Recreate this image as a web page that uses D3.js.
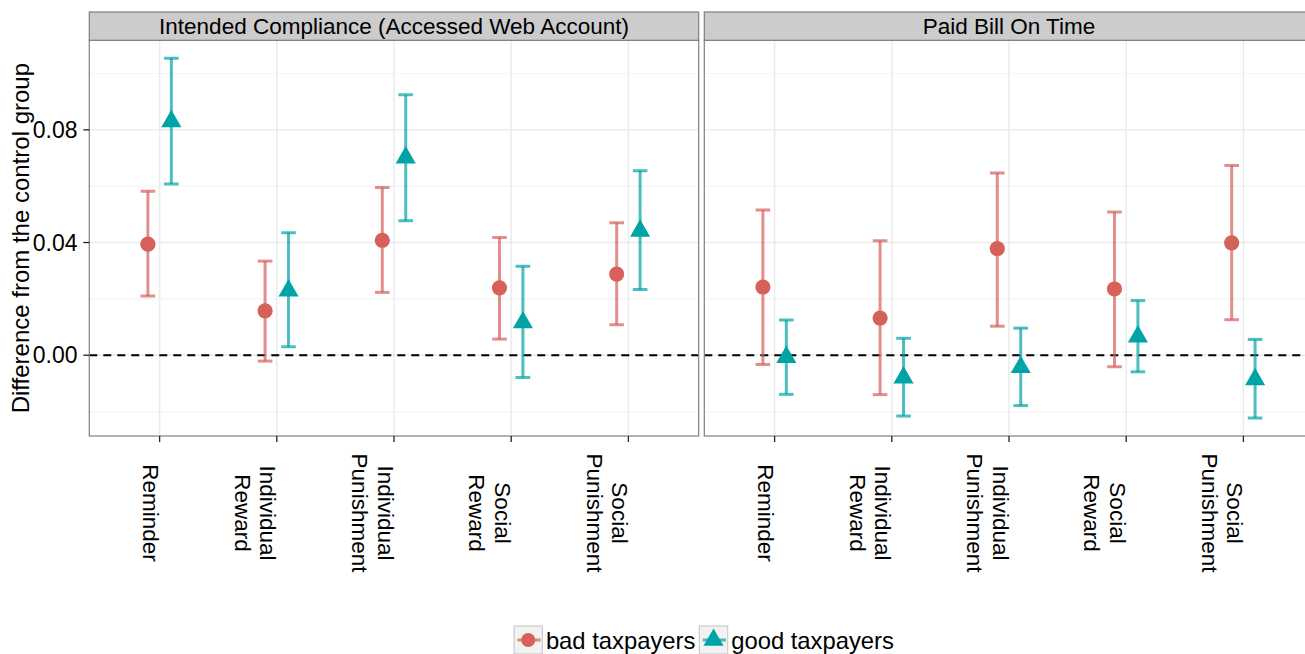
<!DOCTYPE html>
<html>
<head>
<meta charset="utf-8">
<script src="https://cdn.jsdelivr.net/npm/d3@7"></script>
<style>
  html, body { margin: 0; padding: 0; background: #fff; }
  svg { display: block; }
  text { font-family: "Liberation Sans", Arial, Helvetica, sans-serif; fill: #000; }
</style>
</head>
<body>
<svg id="chart" width="1305" height="654"></svg>
<script>
// ---------------- data ----------------
const categories = ["Reminder", "Individual Reward", "Individual Punishment", "Social Reward", "Social Punishment"];
const categoryLabelLines = [["Reminder"], ["Individual", "Reward"], ["Individual", "Punishment"], ["Social", "Reward"], ["Social", "Punishment"]];
const panels = ["Intended Compliance (Accessed Web Account)", "Paid Bill On Time"];
const groups = ["bad taxpayers", "good taxpayers"];
const yTickValues = [0, 0.04, 0.08];
const yTickLabels = ["0.00", "0.04", "0.08"];
const yMinorValues = [-0.02, 0.02, 0.06, 0.10];
const yTitle = "Difference from the control group";

// Intended Compliance (Accessed Web Account)
const intendedBadEst   = [0.0394, 0.0157, 0.0408, 0.0239, 0.0288];
const intendedBadLow   = [0.0210, -0.0021, 0.0223, 0.0057, 0.0108];
const intendedBadHigh  = [0.0582, 0.0334, 0.0595, 0.0418, 0.0470];
const intendedGoodEst  = [0.0830, 0.0229, 0.0701, 0.0116, 0.0441];
const intendedGoodLow  = [0.0608, 0.0030, 0.0477, -0.0079, 0.0233];
const intendedGoodHigh = [0.1054, 0.0435, 0.0925, 0.0316, 0.0655];

// Paid Bill On Time
const paidBadEst   = [0.0242, 0.0132, 0.0378, 0.0235, 0.0399];
const paidBadLow   = [-0.0033, -0.0140, 0.0103, -0.0041, 0.0126];
const paidBadHigh  = [0.0515, 0.0406, 0.0647, 0.0508, 0.0673];
const paidGoodEst  = [-0.0007, -0.0080, -0.0043, 0.0066, -0.0086];
const paidGoodLow  = [-0.0139, -0.0216, -0.0179, -0.0059, -0.0223];
const paidGoodHigh = [0.0125, 0.0060, 0.0096, 0.0194, 0.0056];

// ---------------- build rows ----------------
const seriesTable = [
  [[intendedBadEst, intendedBadLow, intendedBadHigh], [intendedGoodEst, intendedGoodLow, intendedGoodHigh]],
  [[paidBadEst, paidBadLow, paidBadHigh], [paidGoodEst, paidGoodLow, paidGoodHigh]]
];
const rows = [];
panels.forEach((p, pi) => {
  groups.forEach((g, gi) => {
    const [est, lo, hi] = seriesTable[pi][gi];
    categories.forEach((c, ci) => {
      rows.push({ panel: p, pi, group: g, gi, cat: c, est: est[ci], lo: lo[ci], hi: hi[ci] });
    });
  });
});

// ---------------- layout ----------------
const colors = { "bad taxpayers": "#D6605A", "good taxpayers": "#00A3A6" };
const FONT = 22.5;
const panelTop = 40.3, panelBottom = 436;
const stripTop = 12;
const panelW = 609.4;
const panelX = [89.3, 704.3];

const svg = d3.select("#chart");

// y scale: data range expanded by 5%
const yMin = d3.min(rows, d => d.lo), yMax = d3.max(rows, d => d.hi);
const pad = (yMax - yMin) * 0.05;
const y = d3.scaleLinear().domain([yMin - pad, yMax + pad]).range([panelBottom, panelTop]);

panels.forEach((pname, pi) => {
  const x0 = panelX[pi];
  const x = d3.scalePoint().domain(categories).range([x0, x0 + panelW]).padding(0.6);
  const step = x.step();
  const dodge = d3.scalePoint().domain(groups).range([-0.1 * step, 0.1 * step]);

  const g = svg.append("g");

  const clipId = "clip" + pi;
  svg.append("clipPath").attr("id", clipId)
    .append("rect").attr("x", x0).attr("y", panelTop).attr("width", panelW).attr("height", panelBottom - panelTop);

  g.append("rect").attr("x", x0).attr("y", panelTop).attr("width", panelW).attr("height", panelBottom - panelTop)
    .attr("fill", "#fff");

  const inner = g.append("g").attr("clip-path", `url(#${clipId})`);

  inner.selectAll(".minor").data(yMinorValues).enter().append("line")
    .attr("x1", x0).attr("x2", x0 + panelW)
    .attr("y1", d => y(d)).attr("y2", d => y(d))
    .attr("stroke", "#F5F5F5").attr("stroke-width", 1.2);
  inner.selectAll(".major").data(yTickValues).enter().append("line")
    .attr("x1", x0).attr("x2", x0 + panelW)
    .attr("y1", d => y(d)).attr("y2", d => y(d))
    .attr("stroke", "#EBEBEB").attr("stroke-width", 1.5);
  inner.selectAll(".vgrid").data(categories).enter().append("line")
    .attr("x1", d => x(d)).attr("x2", d => x(d))
    .attr("y1", panelTop).attr("y2", panelBottom)
    .attr("stroke", "#EBEBEB").attr("stroke-width", 1.5);

  inner.append("line")
    .attr("x1", x0).attr("x2", x0 + panelW)
    .attr("y1", y(0)).attr("y2", y(0))
    .attr("stroke", "#000").attr("stroke-width", 2).attr("stroke-dasharray", "8,6");

  const data = rows.filter(r => r.pi === pi);
  const capHalf = 7.3;

  const eb = inner.selectAll(".eb").data(data).enter().append("g")
    .attr("stroke", d => colors[d.group]).attr("stroke-opacity", 0.7).attr("stroke-width", 3).attr("fill", "none");
  eb.append("line")
    .attr("x1", d => x(d.cat) + dodge(d.group)).attr("x2", d => x(d.cat) + dodge(d.group))
    .attr("y1", d => y(d.lo)).attr("y2", d => y(d.hi));
  eb.append("line")
    .attr("x1", d => x(d.cat) + dodge(d.group) - capHalf).attr("x2", d => x(d.cat) + dodge(d.group) + capHalf)
    .attr("y1", d => y(d.lo)).attr("y2", d => y(d.lo));
  eb.append("line")
    .attr("x1", d => x(d.cat) + dodge(d.group) - capHalf).attr("x2", d => x(d.cat) + dodge(d.group) + capHalf)
    .attr("y1", d => y(d.hi)).attr("y2", d => y(d.hi));

  const circSym = d3.symbol().type(d3.symbolCircle).size(Math.PI * 7.6 * 7.6);
  const triSym = d3.symbol().type(d3.symbolTriangle).size(175);
  inner.selectAll(".pt").data(data).enter().append("path")
    .attr("transform", d => `translate(${x(d.cat) + dodge(d.group)},${y(d.est)})`)
    .attr("d", d => d.gi === 0 ? circSym() : triSym())
    .attr("fill", d => colors[d.group]);

  g.append("rect").attr("x", x0).attr("y", panelTop).attr("width", panelW).attr("height", panelBottom - panelTop)
    .attr("fill", "none").attr("stroke", "#7F7F7F").attr("stroke-width", 1.2);

  g.append("rect").attr("x", x0).attr("y", stripTop).attr("width", panelW).attr("height", panelTop - stripTop)
    .attr("fill", "#CCCCCC").attr("stroke", "#7F7F7F").attr("stroke-width", 1.2);
  g.append("text").attr("x", x0 + panelW / 2).attr("y", 34.2)
    .attr("text-anchor", "middle").attr("font-size", FONT).text(pname);

  const xa = g.append("g");
  xa.selectAll(".tk").data(categories).enter().append("line")
    .attr("x1", d => x(d)).attr("x2", d => x(d))
    .attr("y1", panelBottom).attr("y2", panelBottom + 6)
    .attr("stroke", "#222").attr("stroke-width", 1.3);
  categories.forEach((c, ci) => {
    const t = xa.append("text")
      .attr("transform", `translate(${x(c)},513) rotate(90)`)
      .attr("text-anchor", "middle").attr("font-size", FONT);
    categoryLabelLines[ci].forEach((line, li) => {
      t.append("tspan").attr("x", 0).attr("y", 16.3 + li * 25.5).text(line);
    });
  });
});

// y axis (left panel only)
const ya = svg.append("g");
ya.selectAll(".ytk").data(yTickValues).enter().append("line")
  .attr("x1", panelX[0] - 6).attr("x2", panelX[0])
  .attr("y1", d => y(d)).attr("y2", d => y(d))
  .attr("stroke", "#222").attr("stroke-width", 1.3);
ya.selectAll(".ylab").data(yTickValues).enter().append("text")
  .attr("x", 77.5).attr("y", d => y(d)).attr("dy", "0.36em")
  .attr("text-anchor", "end").attr("font-size", 23)
  .text((d, i) => yTickLabels[i]);
svg.append("text")
  .attr("transform", `translate(28.5,${(panelTop + panelBottom) / 2}) rotate(-90)`)
  .attr("text-anchor", "middle").attr("font-size", 24).text(yTitle);

// legend
const legend = svg.append("g");
const keyW = 28.3, keyH = 28, keyTop = 626;
const items = [];
groups.forEach((gname, gi) => {
  const it = legend.append("g");
  it.append("rect").attr("x", 0).attr("y", keyTop).attr("width", keyW).attr("height", keyH)
    .attr("fill", "#F2F2F2").attr("stroke", "#CCCCCC").attr("stroke-width", 1.2);
  it.append("line").attr("x1", 3.3).attr("x2", keyW - 1.7).attr("y1", keyTop + 14).attr("y2", keyTop + 14)
    .attr("stroke", colors[gname]).attr("stroke-opacity", 0.7).attr("stroke-width", 3);
  const sym = gi === 0 ? d3.symbol().type(d3.symbolCircle).size(Math.PI * 7 * 7)
                       : d3.symbol().type(d3.symbolTriangle).size(175);
  it.append("path").attr("transform", `translate(${keyW / 2},${keyTop + 14})`).attr("d", sym())
    .attr("fill", colors[gname]);
  const tx = it.append("text").attr("x", keyW + 3.5).attr("y", 648.5).attr("font-size", 23.8).text(gname);
  const w = keyW + 3.5 + tx.node().getComputedTextLength();
  items.push({ it, w });
});
const gap = 4;
const total = d3.sum(items, d => d.w) + gap * (items.length - 1);
let cx = 704 - total / 2;
items.forEach(d => { d.it.attr("transform", `translate(${cx},0)`); cx += d.w + gap; });
</script>
</body>
</html>
